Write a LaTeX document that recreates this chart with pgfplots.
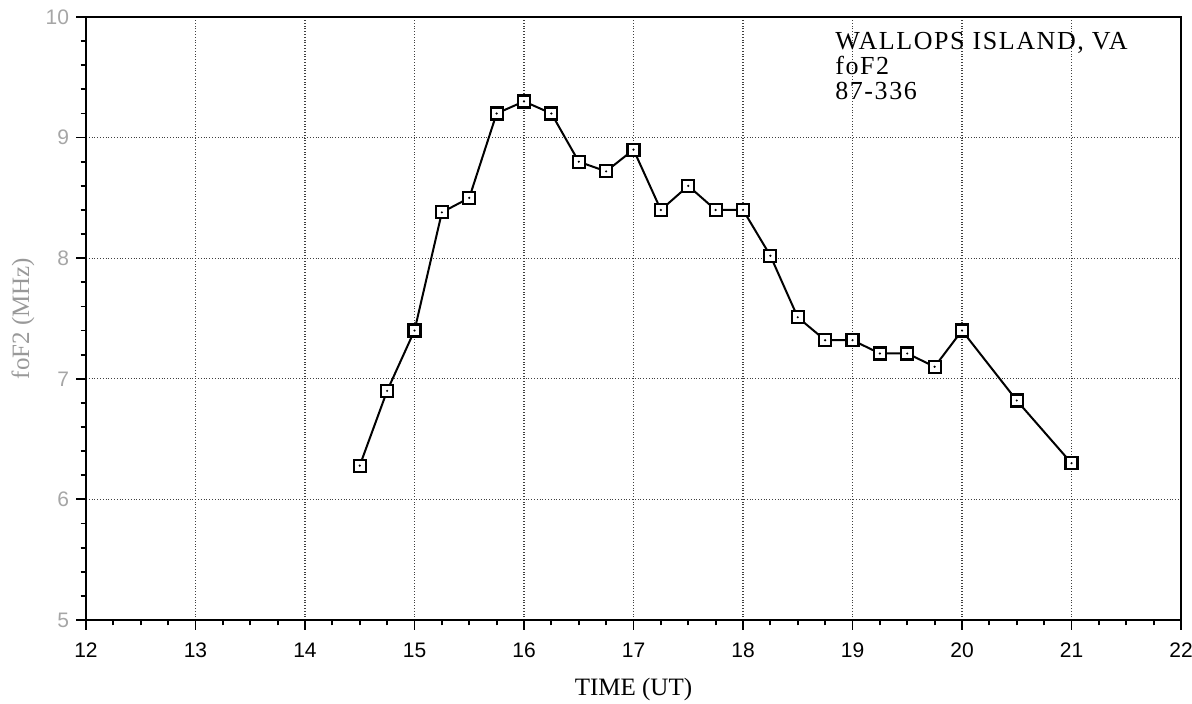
\documentclass[border=0pt]{standalone}
\usepackage{fontspec}
\setmainfont{Liberation Serif}
\setsansfont{Liberation Sans}
\newfontfamily\annfont[LetterSpace=6]{Liberation Serif}
\usepackage{pgfplots}
\pgfplotsset{compat=1.18}

% square mark with a dot in the middle
\pgfdeclareplotmark{sqdot}{%
  \pgfpathrectangle{\pgfpoint{-\pgfplotmarksize}{-\pgfplotmarksize}}{\pgfpoint{2\pgfplotmarksize}{2\pgfplotmarksize}}%
  \pgfusepathqfillstroke
  \pgfscope
  \pgfsetfillcolor{black}%
  \pgfpathcircle{\pgfpointorigin}{0.6pt}%
  \pgfusepathqfill
  \endpgfscope}

\begin{document}
\begin{tikzpicture}
\begin{axis}[
  scale only axis,
  width=547.5pt, height=301.5pt,
  xmin=12, xmax=22, ymin=5, ymax=10,
  xtick={12,...,22}, ytick={5,...,10},
  minor x tick num=3, minor y tick num=4,
  xtick pos=bottom, ytick pos=left,
  tick align=outside,
  major tick length=5pt, minor tick length=2.7pt,
  every tick/.style={black, line width=0.9pt},
  axis line style={line width=1.3pt},
  grid=major,
  major grid style={densely dotted, black!75, line width=0.6pt},
  xticklabel style={font=\sffamily\fontsize{10.5}{12}\selectfont, yshift=-3pt},
  yticklabel style={font=\sffamily\fontsize{10.5}{12}\selectfont, text=black!35},
  /pgf/number format/assume math mode=true,
  xlabel={TIME (UT)},
  xlabel style={font=\fontsize{12.5}{14}\selectfont,
    at={(axis description cs:0.5,-0.116)}, anchor=center},
  ylabel={foF2 (MHz)},
  ylabel style={font=\fontsize{12.5}{14}\selectfont, text=black!40,
    at={(axis description cs:-0.0575,0.5)}, anchor=center},
]
\addplot[black, line width=1pt, mark=sqdot, mark size=3pt,
  mark options={solid, fill=white, line width=1.1pt}]
  coordinates {
    (14.5,6.28) (14.75,6.90) (15.0,7.40) (15.25,8.38) (15.5,8.50)
    (15.75,9.20) (16.0,9.30) (16.25,9.20) (16.5,8.80) (16.75,8.72)
    (17.0,8.90) (17.25,8.40) (17.5,8.60) (17.75,8.40) (18.0,8.40)
    (18.25,8.02) (18.5,7.51) (18.75,7.32) (19.0,7.32) (19.25,7.21)
    (19.5,7.21) (19.75,7.10) (20.0,7.40) (20.5,6.82) (21.0,6.30)
  };
\node[anchor=north west, align=left, inner sep=0pt,
  font=\annfont\fontsize{13}{12.5}\selectfont] at (axis cs:18.84,9.88)
  {WALLOPS ISLAND, VA\\foF2\\87-336};
\end{axis}
\pgfresetboundingbox
\path ([shift={(-43pt,-42pt)}]current axis.south west)
  rectangle ([shift={(5.5pt,8.5pt)}]current axis.north east);
\end{tikzpicture}
\end{document}
